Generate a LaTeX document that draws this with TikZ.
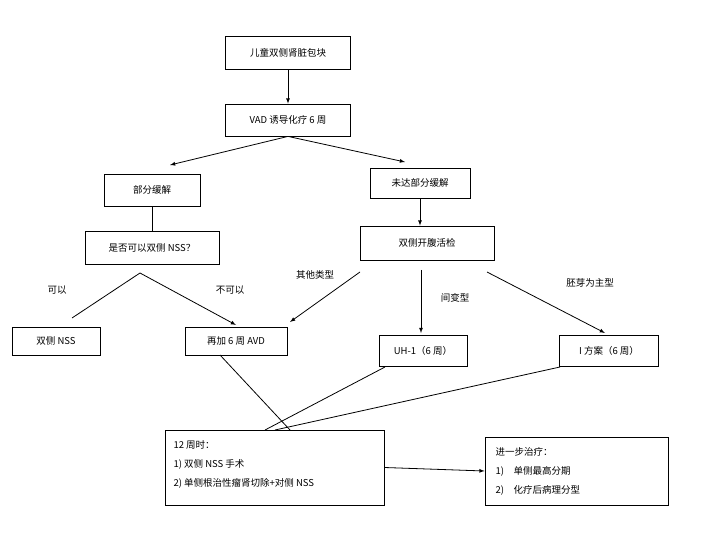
\documentclass[tikz,border=0pt]{standalone}
\usepackage{fontspec}
\setmainfont{Noto Sans CJK SC}
\begin{document}
\begin{tikzpicture}[x=1pt,y=-1pt,
  bx/.style={draw,thick,font=\fontsize{9.5}{11}\selectfont,inner sep=0pt},
  ar/.style={-latex,thick},
  ln/.style={thick},
  lb/.style={font=\fontsize{9.5}{11}\selectfont}]
\useasboundingbox (0,0) rectangle (726,548);
\node[bx,minimum width=125,minimum height=33] (a) at (288,53) {儿童双侧肾脏包块};
\node[bx,minimum width=125,minimum height=32] (b) at (288,120) {VAD 诱导化疗 6 周};
\node[bx,minimum width=96,minimum height=32] (c) at (152,190) {部分缓解};
\node[bx,minimum width=100,minimum height=30] (d) at (420,183) {未达部分缓解};
\node[bx,minimum width=134,minimum height=33] (e) at (152,248) {是否可以双侧 NSS？};
\node[bx,minimum width=134,minimum height=34] (f) at (427,243) {双侧开腹活检};
\node[bx,minimum width=88,minimum height=28] (g) at (56,341) {双侧 NSS};
\node[bx,minimum width=102,minimum height=28] (h) at (236,341) {再加 6 周 AVD};
\node[bx,minimum width=88,minimum height=31] (i) at (423,351) {UH-1（6 周）};
\node[bx,minimum width=99,minimum height=31] (j) at (609,351) {I 方案（6 周）};
\node[bx,minimum width=219,minimum height=75] (k) at (274.5,467.5) {};
\node[lb,anchor=north west,align=left] at (170,437) {12 周时：\\[8pt]1) 双侧 NSS 手术\\[8pt]2) 单侧根治性瘤肾切除+对侧 NSS};
\node[bx,minimum width=183,minimum height=68] (l) at (576.5,471) {};
\node[lb,anchor=north west,align=left] at (492,444) {进一步治疗：\\[8pt]1)\quad 单侧最高分期\\[8pt]2)\quad 化疗后病理分型};
\draw[ar] (a) -- (b);
\draw[ar] (b.south) -- (170,165);
\draw[ar] (b.south) -- (405,162);
\draw[ln] (c) -- (e);
\draw[ar] (d.south) -- (d.south |- f.north);
\coordinate (ap) at (140,273);
\draw[ln] (ap) -- (72,318);
\draw[ar] (ap) -- (236,325);
\draw[ar] (360,272) -- (290,322);
\draw[ar] (421,270) -- (421,333);
\draw[ar] (487,272) -- (605,333);
\node[lb] at (57,290) {可以};
\node[lb] at (230,290) {不可以};
\node[lb] at (315,275) {其他类型};
\node[lb] at (455,298) {间变型};
\node[lb] at (590,283) {胚芽为主型};
\draw[ln] (220,355) -- (290,430);
\draw[ln] (385,367) -- (265,430);
\draw[ln] (560,367) -- (275,430);
\draw[ar] (k.east) -- (l.west);
\end{tikzpicture}
\end{document}
